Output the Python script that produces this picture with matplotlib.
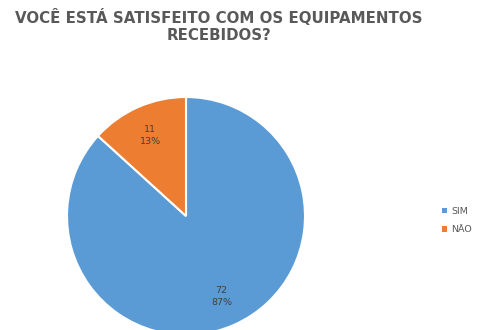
import matplotlib.pyplot as plt
from matplotlib.patches import Patch
import numpy as np

# Respostas da pesquisa
categorias = ['SIM', 'NÃO']
respostas = [72, 11]
cores = ['#5B9BD5', '#ED7D31']

total = sum(respostas)

fig = plt.figure(figsize=(4.86, 3.30), dpi=100)
fig.patch.set_facecolor('white')

fig.text(0.4496, 0.921, 'VOCÊ ESTÁ SATISFEITO COM OS EQUIPAMENTOS\nRECEBIDOS?',
         ha='center', va='center', fontsize=10.8, fontweight='bold',
         color='#595959', linespacing=1.1)

# Eixo da pizza (centro em ~186, 216 px, raio ~119 px)
ax = fig.add_axes([67 / 486, -5 / 330, 238 / 486, 238 / 330])
wedges, _ = ax.pie(respostas, colors=cores, startangle=90, counterclock=False,
                   radius=1, wedgeprops=dict(edgecolor='white', linewidth=1.5))
ax.set_xlim(-1, 1)
ax.set_ylim(-1, 1)
ax.set_aspect('equal')

inicio = 90
for v in respostas:
    ang = inicio - v / total * 360 / 2
    inicio -= v / total * 360
    x = 0.74 * np.cos(np.radians(ang))
    y = 0.74 * np.sin(np.radians(ang))
    ax.text(x, y, f'{v}\n{v / total * 100:.0f}%', ha='center', va='center',
            fontsize=6.8, color='#404040', linespacing=1.3)

handles = [Patch(facecolor=c, edgecolor='none') for c in cores]
fig.legend(handles, categorias, loc='center left', bbox_to_anchor=(0.893, 0.332),
           frameon=False, fontsize=6.8, handlelength=0.5, handleheight=0.5,
           handletextpad=0.4, labelspacing=1.0, labelcolor='#595959')

fig.savefig('out.png', dpi=100)
